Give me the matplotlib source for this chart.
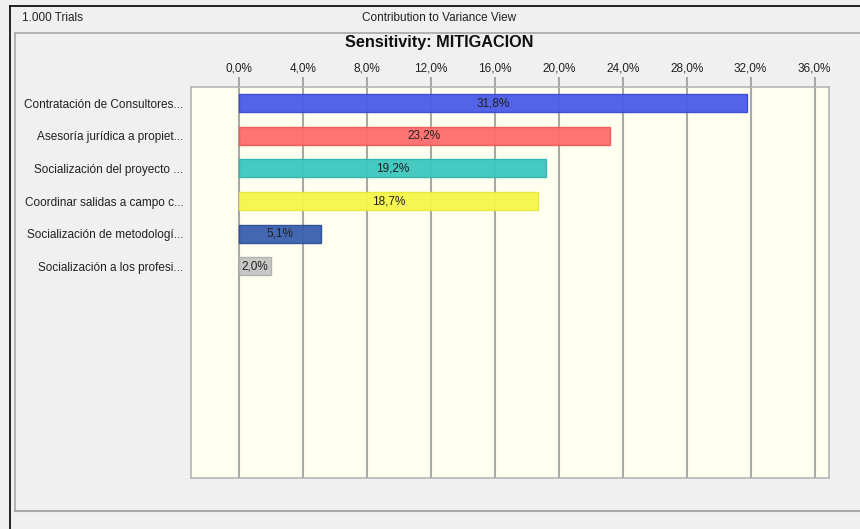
import matplotlib.pyplot as plt
from matplotlib.lines import Line2D

plt.rcParams['font.family'] = ['Liberation Sans', 'DejaVu Sans']

labels = ['Contratación de Consultores...',
          'Asesoría jurídica a propiet...',
          'Socialización del proyecto ...',
          'Coordinar salidas a campo c...',
          'Socialización de metodologí...',
          'Socialización a los profesi...']
values = [31.8, 23.2, 19.2, 18.7, 5.1, 2.0]
colors = ['#4a5ce8', '#ff6b6b', '#3cc6be', '#f6f64a', '#3a5fae', '#c4c4c4']
edges = ['#3a4ad0', '#f05a5a', '#2eb4ac', '#e8e83a', '#2c4e98', '#b0b0b0']
ticks = [0, 4, 8, 12, 16, 20, 24, 28, 32, 36]

W, H = 860, 529
fig = plt.figure(figsize=(W/100, H/100), dpi=100)
fig.patch.set_facecolor('#f0f0f0')

def fx(px): return px / W
def fy(py): return 1 - py / H

# outer frame and inner panel
fig.add_artist(Line2D([fx(10), fx(10)], [0, fy(6)], color='#000000', lw=1.2))
fig.add_artist(Line2D([fx(10), 1], [fy(6), fy(6)], color='#000000', lw=1.2))
fig.add_artist(Line2D([fx(15), fx(15)], [fy(511), fy(33)], color='#a8a8a8', lw=1.2))
fig.add_artist(Line2D([fx(15), 1], [fy(33), fy(33)], color='#a8a8a8', lw=1.2))
fig.add_artist(Line2D([fx(15), 1], [fy(511), fy(511)], color='#a8a8a8', lw=1.5))

fig.text(fx(22), fy(18), '1.000 Trials', fontsize=8.5, va='center', ha='left', color='#202020')
fig.text(fx(439), fy(18), 'Contribution to Variance View', fontsize=8.5, va='center', ha='center', color='#202020')
fig.text(fx(439), fy(43), 'Sensitivity: MITIGACION', fontsize=11.7, fontweight='bold', va='center', ha='center', color='#101010')

ax = fig.add_axes([fx(191), fy(478), fx(829) - fx(191), (478 - 87) / H])
ax.set_facecolor('#fffff0')
ax.set_xlim(-3.0, 36.9)
ax.set_ylim(11.5, -0.5)

ypos = list(range(len(values)))
for t in ticks:
    ax.axvline(t, color='#a8a8a8', lw=1.5, zorder=1)
ax.barh(ypos, values, height=0.55, color=colors, edgecolor=edges, linewidth=1, alpha=0.95, zorder=2)
for y, v in zip(ypos, values):
    ax.text(v / 2, y, f'{v:.1f}%'.replace('.', ','), ha='center', va='center', fontsize=8.5, color='#202020', zorder=3)

ax.xaxis.tick_top()
ax.set_xticks(ticks)
ax.set_xticklabels([f'{t:.1f}%'.replace('.', ',') for t in ticks], fontsize=8.5, color='#202020')
ax.tick_params(axis='x', length=7, width=1.5, color='#a8a8a8', pad=2)
ax.set_yticks(ypos)
ax.set_yticklabels(labels, fontsize=8.5, color='#202020')
ax.tick_params(axis='y', length=0, pad=5.5)
for s in ax.spines.values():
    s.set_color('#b4b4b4')
    s.set_linewidth(1.2)

fig.savefig('out.png', dpi=100, facecolor=fig.get_facecolor())
